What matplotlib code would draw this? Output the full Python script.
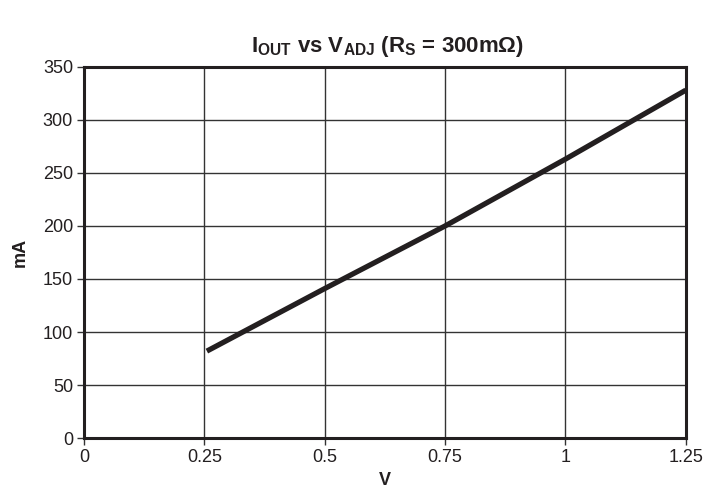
import matplotlib
matplotlib.use("Agg")
import matplotlib.pyplot as plt

plt.rcParams['font.family'] = ['Liberation Sans', 'DejaVu Sans']
plt.rcParams['mathtext.fontset'] = 'custom'
plt.rcParams['mathtext.rm'] = 'Liberation Sans'
plt.rcParams['mathtext.bf'] = 'Liberation Sans:bold'

v_adj = [0.255, 0.5, 0.75, 1.0, 1.25]
i_out = [82, 141, 200, 263, 328]
x_ticks = [0, 0.25, 0.5, 0.75, 1, 1.25]
x_labels = ['0', '0.25', '0.5', '0.75', '1', '1.25']
y_ticks = [0, 50, 100, 150, 200, 250, 300, 350]

fig = plt.figure(figsize=(7.07, 4.95), dpi=100)
ax = fig.add_axes([0.119, 0.115, 0.851, 0.75])
ax.plot(v_adj, i_out, color='#231f20', lw=3.8, solid_capstyle='butt')
ax.set_xlim(0, 1.25)
ax.set_ylim(0, 350)
ax.set_xticks(x_ticks)
ax.set_xticklabels(x_labels)
ax.set_yticks(y_ticks)
ax.grid(True, color='#333333', lw=1.0)
for s in ax.spines.values():
    s.set_linewidth(2.2)
    s.set_color('#231f20')
ax.tick_params(axis='both', labelsize=13, length=5, width=1, color='#333333', labelcolor='#231f20', pad=3)
ax.set_xlabel('V', fontsize=13, fontweight='bold', labelpad=4, color='#231f20')
ax.set_ylabel('mA', fontsize=13, fontweight='bold', labelpad=10, color='#231f20')
ax.set_title(r'$\mathbf{I_{OUT}}$ vs $\mathbf{V_{ADJ}}$ ($\mathbf{R_{S}}$ = 300m$\mathbf{\Omega}$)',
             fontsize=16, fontweight='bold', pad=11, color='#231f20', x=0.505)
fig.savefig('out.png', dpi=100)
